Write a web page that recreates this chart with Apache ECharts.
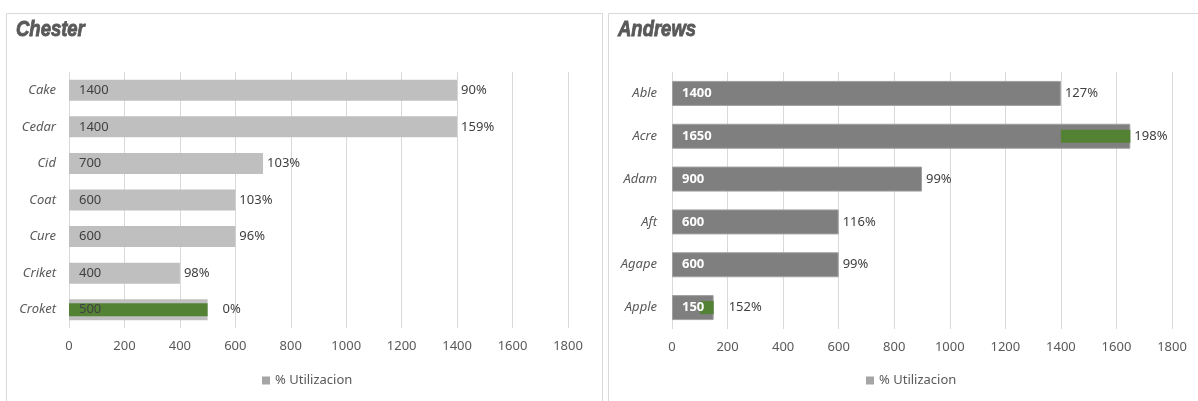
<!DOCTYPE html>
<html><head><meta charset="utf-8">
<script src="https://cdn.jsdelivr.net/npm/echarts@6/dist/echarts.min.js"></script>
<style>html,body{margin:0;padding:0;background:#fff}#c{width:1198px;height:401px}</style>
</head><body><div id="c"></div>
<script>
// ---- data ----
const chesterCats = ['Cake','Cedar','Cid','Coat','Cure','Criket','Croket'];
const chesterValues = [1400,1400,700,600,600,400,500];
const chesterPct = ['90%','159%','103%','103%','96%','98%','0%'];
const chesterGreenStart = ['-','-','-','-','-','-',0];
const chesterGreenEnd = ['-','-','-','-','-','-',500];

const andrewsCats = ['Able','Acre','Adam','Aft','Agape','Apple'];
const andrewsValues = [1400,1650,900,600,600,150];
const andrewsPct = ['127%','198%','99%','116%','99%','152%'];
const andrewsGreenStart = ['-',1400,'-','-','-',100];
const andrewsGreenEnd = ['-',1650,'-','-','-',150];

const xTicks = [0,200,400,600,800,1000,1200,1400,1600,1800];
const legendName = '% Utilizacion';
const titles = ['Chester','Andrews'];

// ---- chart ----
const FONT = "'Noto Sans', 'Open Sans', sans-serif";
const FS = 13;
const TXT = '#595959';
const GREEN = '#548235';
const chart = echarts.init(document.getElementById('c'), null, {renderer:'canvas'});

function diff(a,b){return a.map((s,i)=> (s==='-'?'-':b[i]-s));}

function panel(idx, cats, vals, pct, gStart, gEnd, cfg){
  const xAxis = {
    gridIndex: idx, type:'value', min: xTicks[0], max: xTicks[xTicks.length-1], interval: xTicks[1]-xTicks[0],
    axisLine:{show:false}, axisTick:{show:false},
    splitLine:{lineStyle:{color:'#d9d9d9', width:1}},
    axisLabel:{color:TXT, fontSize:FS, fontFamily:FONT, margin:12, formatter: v => String(v)}
  };
  const yA = {
    gridIndex: idx, type:'category', data: cats, inverse:true,
    axisLine:{show:false}, axisTick:{show:false},
    axisLabel:{color:TXT, fontSize:FS, fontStyle:'italic', fontFamily:FONT, margin:cfg.ymargin}
  };
  const yB = {gridIndex: idx, type:'category', data: cats, inverse:true, show:false};
  const series = [
    {type:'bar', name:'cap'+idx, xAxisIndex: idx, yAxisIndex: idx*2, data: vals, barWidth: cfg.bw, barGap:'-100%',
     itemStyle:{color: cfg.barColor, borderColor: cfg.border, borderWidth: cfg.border?1:0},
     silent:true, z:2},
    {type:'bar', name:'pct'+idx, xAxisIndex: idx, yAxisIndex: idx*2, barWidth: cfg.bw, barGap:'-100%',
     data: vals.map((v,i)=>({value:v, label:{distance: cfg.farLabel.indexOf(i)>=0 ? 15 : 4}})),
     itemStyle:{color:'rgba(0,0,0,0)'},
     label:{show:true, position:'right', color:'#404040', fontSize:FS, fontFamily:FONT,
            formatter: p => pct[p.dataIndex]},
     silent:true, z:5},
    {type:'bar', name:'in'+idx, xAxisIndex: idx, yAxisIndex: idx*2, barWidth: cfg.bw, barGap:'-100%',
     data: vals, itemStyle:{color:'rgba(0,0,0,0)'},
     label:{show:true, position:'insideLeft', distance:10, color: cfg.inColor, fontWeight: cfg.inWeight, fontSize:FS, fontFamily:FONT},
     silent:true, z:5},
    {type:'bar', name:'base'+idx, xAxisIndex: idx, yAxisIndex: idx*2+1, stack:'g'+idx, data: gStart, barWidth:13,
     itemStyle:{color:'rgba(0,0,0,0)'}, silent:true, z:3},
    {type:'bar', name:'green'+idx, xAxisIndex: idx, yAxisIndex: idx*2+1, stack:'g'+idx, data: diff(gStart,gEnd), barWidth:13,
     itemStyle:{color:GREEN}, silent:true, z:3},
    {type:'line', name: legendName, xAxisIndex: idx, yAxisIndex: idx*2, data: [], itemStyle:{color:'#a5a5a5'}, lineStyle:{color:'#a5a5a5'}}
  ];
  return {xAxis, yAxes:[yA,yB], series};
}

const p0 = panel(0, chesterCats, chesterValues, chesterPct, chesterGreenStart, chesterGreenEnd,
  {bw:21, barColor:'#bfbfbf', border:null, inColor:'#404040', inWeight:'normal', ymargin:13, farLabel:[6]});
const p1 = panel(1, andrewsCats, andrewsValues, andrewsPct, andrewsGreenStart, andrewsGreenEnd,
  {bw:25, barColor:'#7f7f7f', border:'#a0a0a0', inColor:'#ffffff', inWeight:'bold', ymargin:15, farLabel:[5]});

function titleText(t, x){
  return {type:'text', x:x, y:19, scaleX:0.84, silent:true,
    style:{text:t, fill:TXT, stroke:TXT, lineWidth:0.9, font:"italic bold 22px 'Liberation Sans', Arial, sans-serif"}};
}

chart.setOption({
  animation:false,
  backgroundColor:'#ffffff',
  graphic:[
    {type:'rect', shape:{x:6.5, y:13.5, width:596, height:420}, style:{fill:'none', stroke:'#d9d9d9', lineWidth:1}, silent:true},
    {type:'rect', shape:{x:608.5, y:13.5, width:620, height:420}, style:{fill:'none', stroke:'#d9d9d9', lineWidth:1}, silent:true},
    titleText(titles[0], 16),
    titleText(titles[1], 618)
  ],
  legend:[
    {data:[legendName], left:257, top:369, icon:'rect', itemWidth:8, itemHeight:8,
     textStyle:{color:TXT, fontSize:FS, fontFamily:FONT}, selectedMode:false},
    {data:[legendName], left:861, top:369, icon:'rect', itemWidth:8, itemHeight:8,
     textStyle:{color:TXT, fontSize:FS, fontFamily:FONT}, selectedMode:false}
  ],
  grid:[
    {left:69, top:72, width:499, height:256},
    {left:672, top:72, width:500, height:257}
  ],
  xAxis:[p0.xAxis, p1.xAxis],
  yAxis:[...p0.yAxes, ...p1.yAxes],
  series:[...p0.series, ...p1.series]
});
</script></body></html>
